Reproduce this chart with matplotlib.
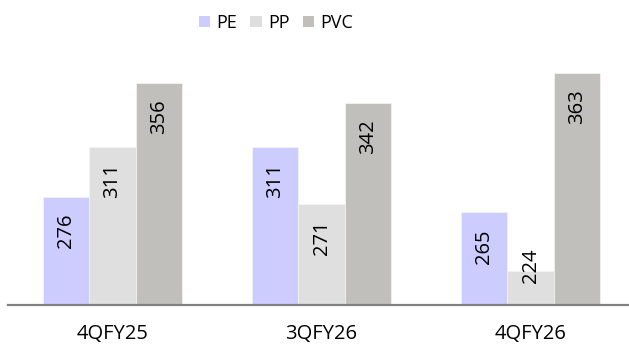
import matplotlib
matplotlib.use("Agg")
import matplotlib.pyplot as plt
from matplotlib.patches import Patch
import numpy as np

categories = ["4QFY25", "3QFY26", "4QFY26"]
series_names = ["PE", "PP", "PVC"]
pe = [276, 311, 265]
pp = [311, 271, 224]
pvc = [356, 342, 363]
colors = ["#CCCCFF", "#DFDFDF", "#C0BFBB"]

plt.rcParams['font.family'] = ['Open Sans', 'DejaVu Sans']

fig = plt.figure(figsize=(6.29, 3.49), dpi=100)
W, H = 629, 349
ax = fig.add_axes([8 / W, (H - 305) / H, 1 - 8 / W, 285 / H])

ymin, ymax = 200, 400
ax.set_ylim(ymin, ymax)
ax.set_xlim(-0.5, 2.471)

x = np.arange(len(categories))
bw = 0.2225
data = [pe, pp, pvc]
for i, (vals, col) in enumerate(zip(data, colors)):
    xs = x + (i - 1) * bw
    ax.bar(xs, np.array(vals) - ymin, bottom=ymin, width=bw, color=col,
           edgecolor="#F2F2F2", linewidth=0.6, label=series_names[i], zorder=2)
    for xi, v in zip(xs, vals):
        if v - 36 > ymin:
            ax.text(xi, v - 24, str(v), rotation=90, ha="center", va="center",
                    fontsize=14.5, color="black", zorder=3)
        else:
            ax.text(xi, v + 3.5, str(v), rotation=90, ha="center", va="center",
                    fontsize=14.5, color="black", zorder=3)

for s in ["top", "right", "left"]:
    ax.spines[s].set_visible(False)
ax.spines["bottom"].set_color("#808080")
ax.spines["bottom"].set_linewidth(1.6)
ax.set_yticks([])
ax.set_xticks(x)
ax.set_xticklabels(categories, fontsize=14.5, color="black")
ax.tick_params(axis="x", length=0, pad=14)

handles = [Patch(facecolor=c, edgecolor="none") for c in colors]
fig.legend(handles, series_names, loc="center", bbox_to_anchor=(276 / W, 1 - 23 / H),
           ncol=3, frameon=False, fontsize=13, handlelength=0.62, handleheight=0.62,
           handletextpad=0.35, columnspacing=0.75, borderpad=0)

fig.savefig("out.png", dpi=100)
